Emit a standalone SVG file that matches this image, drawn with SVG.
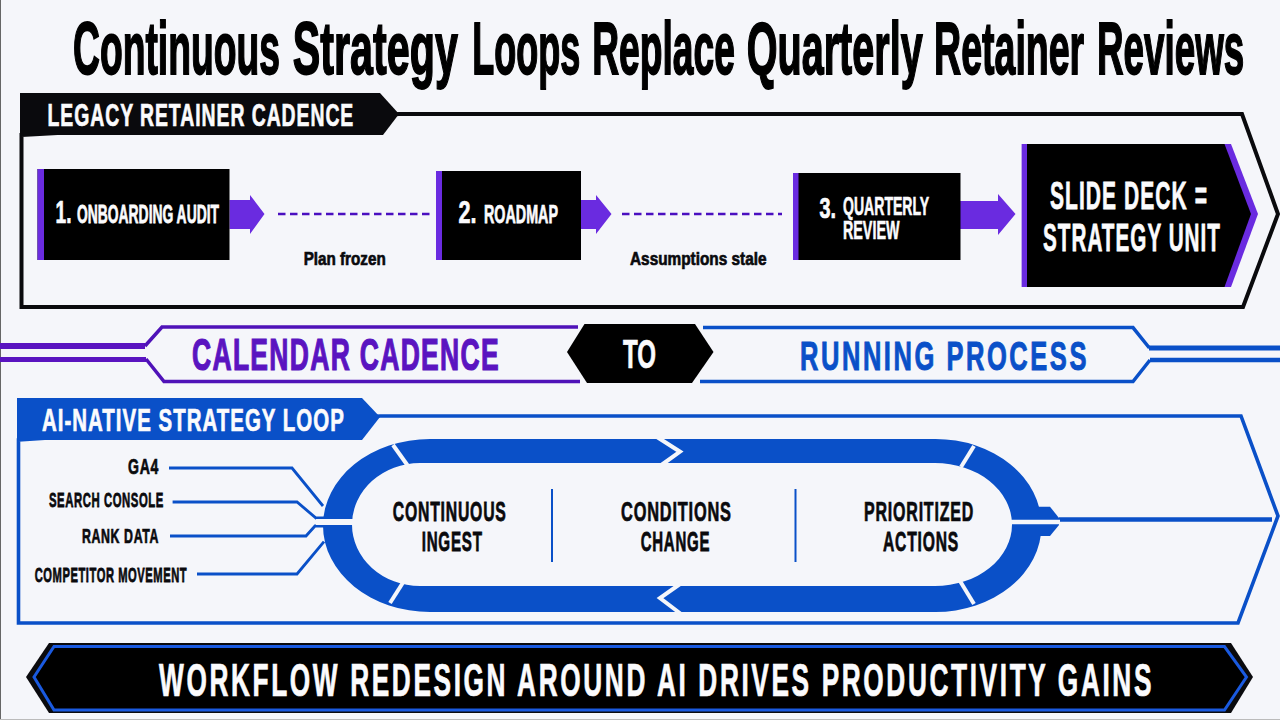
<svg xmlns="http://www.w3.org/2000/svg" width="1280" height="720" viewBox="0 0 1280 720">
<style>
text{font-family:"Liberation Sans",Arial,sans-serif;font-weight:700;vector-effect:non-scaling-stroke}
.w{fill:#fbfbfd;stroke:#fbfbfd;stroke-width:.6}.k{fill:#0a0a0d;stroke:#0a0a0d;stroke-width:.6}
.sp{letter-spacing:.05em}.sp2{letter-spacing:.1em}
.strip{fill:#6a2be0}.box{fill:#000}
.arrow{fill:#6a2be0}
.dash{fill:none;stroke:#4a0fc0;stroke-width:2.3;stroke-dasharray:7.5 4.5}
.pl{fill:none;stroke:#4f12b8;stroke-width:3.5}
.bl{fill:none;stroke:#0a50c8;stroke-width:3.5}
.feed{fill:none;stroke:#0a50c8;stroke-width:2.8}
.cut{fill:none;stroke:#f5f6fa;stroke-width:4}
</style>
<rect width="1280" height="720" fill="#f5f6fa"/>
<line x1="0.5" y1="0" x2="0.5" y2="720" stroke="#666" stroke-width="1"/>
<line x1="0" y1="719.5" x2="1280" y2="719.5" stroke="#bbb" stroke-width="1"/>
<text id="title" transform="translate(73 74) scale(.494 1)" font-size="75" fill="#000" stroke="#000" stroke-width="1.8"><tspan x="0" textLength="419" lengthAdjust="spacingAndGlyphs">Continuous</tspan> <tspan x="445" textLength="334" lengthAdjust="spacingAndGlyphs">Strategy</tspan> <tspan x="808" textLength="219" lengthAdjust="spacingAndGlyphs">Loops</tspan> <tspan x="1051" textLength="289" lengthAdjust="spacingAndGlyphs">Replace</tspan> <tspan x="1364" textLength="356" lengthAdjust="spacingAndGlyphs">Quarterly</tspan> <tspan x="1743" textLength="304" lengthAdjust="spacingAndGlyphs">Retainer</tspan> <tspan x="2073" textLength="298" lengthAdjust="spacingAndGlyphs">Reviews</tspan></text>

<g id="legacy-panel">
<polygon points="21.5,135 21.5,307 1243,307 1278,214 1242,114 399,114" fill="none" stroke="#0a0a0d" stroke-width="4"/>
<polygon points="20,93 380,93 399,114 383,135 20,135" fill="#0a0a0d"/>
<text class="w sp" transform="translate(47.5 126) scale(.567 1)" font-size="32" textLength="541" lengthAdjust="spacingAndGlyphs">LEGACY RETAINER CADENCE</text>
</g>
<g id="connectors">
<polygon class="arrow" points="229.5,200 250,200 250,195 264.5,214 250,234 250,229 229.5,229"/>
<polygon class="arrow" points="581,200 596,200 596,195 611.5,214 596,234 596,229 581,229"/>
<polygon class="arrow" points="960,201 998,201 998,194 1015.5,214 998,235 998,229 960,229"/>
<line class="dash" x1="278" y1="214" x2="431" y2="214"/>
<line class="dash" x1="622" y1="214" x2="782" y2="214"/>
<text class="k" transform="translate(303.7 265) scale(.8 1)" font-size="18" textLength="102.5" lengthAdjust="spacingAndGlyphs">Plan frozen</text>
<text class="k" transform="translate(630 265) scale(.808 1)" font-size="18" textLength="169" lengthAdjust="spacingAndGlyphs">Assumptions stale</text>
<g class="feed">
<polyline points="169,468 292,468 323,506"/>
<polyline points="172.6,502 297,502 316,518 325,518"/>
<polyline points="170,536 306,536 315,526 325,526"/>
<polyline points="197,574 297,574 324,541.7"/>
</g>
<line x1="1059" y1="519.5" x2="1272" y2="519.5" stroke="#0a50c8" stroke-width="4.5"/>
</g>
<g id="node-onboarding">
<rect class="box" x="37.5" y="169" width="192" height="91"/><rect class="strip" x="37.5" y="169" width="6.5" height="91"/>
<text class="w" transform="translate(55.5 223) scale(.564 1)" font-size="32" textLength="28.4" lengthAdjust="spacingAndGlyphs">1.</text>
<text class="w" transform="translate(77 223) scale(.522 1)" font-size="25" textLength="272" lengthAdjust="spacingAndGlyphs">ONBOARDING AUDIT</text>
</g>
<g id="node-roadmap">
<rect class="box" x="436" y="171" width="145" height="89"/><rect class="strip" x="436" y="171" width="6" height="89"/>
<text class="w" transform="translate(458.5 223) scale(.635 1)" font-size="32" textLength="28.4" lengthAdjust="spacingAndGlyphs">2.</text>
<text class="w" transform="translate(484 223) scale(.53 1)" font-size="25" textLength="139.5" lengthAdjust="spacingAndGlyphs">ROADMAP</text>
</g>
<g id="node-review">
<rect class="box" x="793" y="173" width="167.5" height="87"/><rect class="strip" x="793" y="173" width="5.5" height="87"/>
<text class="w" transform="translate(819.6 218) scale(.638 1)" font-size="29" textLength="25.9" lengthAdjust="spacingAndGlyphs">3.</text>
<text class="w" transform="translate(843 215) scale(.53 1)" font-size="25"><tspan x="0" y="0" textLength="162.6" lengthAdjust="spacingAndGlyphs">QUARTERLY</tspan> <tspan x="0" y="24" textLength="106.5" lengthAdjust="spacingAndGlyphs">REVIEW</tspan></text>
</g>
<g id="node-slide-deck">
<polygon class="strip" points="1021.6,144 1231,144 1258,214 1231,287 1021.6,287"/>
<polygon class="box" points="1027,144 1224.5,144 1251,214 1224.5,287 1027,287"/>
<text class="w sp" transform="translate(1050 209) scale(.5 1)" font-size="39" textLength="316" lengthAdjust="spacingAndGlyphs">SLIDE DECK =</text>
<text class="w sp" transform="translate(1043 251) scale(.487 1)" font-size="39" textLength="365.5" lengthAdjust="spacingAndGlyphs">STRATEGY UNIT</text>
</g>

<g id="band-left">
<line x1="0" y1="346" x2="145" y2="346" stroke="#5a14c0" stroke-width="6"/>
<line x1="0" y1="359.5" x2="146" y2="359.5" stroke="#5a14c0" stroke-width="5"/>
<polyline class="pl" points="578,327 162,327 145,346"/>
<polyline class="pl" points="580,381.6 164,381.6 146,359"/>
<text class="sp" transform="translate(192 370) scale(.563 1)" font-size="44" textLength="547" lengthAdjust="spacingAndGlyphs" fill="#5a14c0" stroke="#5a14c0" stroke-width="1">CALENDAR CADENCE</text>
</g>
<g id="band-to">
<polygon class="box" points="567,352 584.5,324 695,324 713.5,352 692,383 587,383"/>
<text class="w" transform="translate(623 368) scale(.553 1)" font-size="41" textLength="59.7" lengthAdjust="spacingAndGlyphs">TO</text>
</g>
<g id="band-right">
<line x1="1149" y1="348" x2="1280" y2="348" stroke="#0a50c8" stroke-width="5"/>
<line x1="1150" y1="360" x2="1280" y2="360" stroke="#0a50c8" stroke-width="4.5"/>
<polyline class="bl" points="703,327.6 1133,327.6 1149.4,348"/>
<polyline class="bl" points="700,381.6 1133,381.6 1150,360"/>
<text class="sp2" transform="translate(800 370) scale(.555 1)" font-size="41.5" textLength="520.7" lengthAdjust="spacingAndGlyphs" fill="#0a50c8" stroke="#0a50c8" stroke-width=".8">RUNNING PROCESS</text>
</g>

<g id="ai-panel">
<polygon points="18.5,440 18.5,623 1238,623 1278,516 1241,416 380,416" fill="none" stroke="#0a50c8" stroke-width="3.6"/>
<polygon points="17,398 362,398 380,417 362,440 17,440" fill="#0a50c8"/>
<text class="w sp" transform="translate(42 431) scale(.595 1)" font-size="32" textLength="509" lengthAdjust="spacingAndGlyphs">AI-NATIVE STRATEGY LOOP</text>
</g>
<g id="loop">
<path fill="#0a50c8" fill-rule="evenodd" d="M430,439H935A106,86.5 0 0 1 1041.5,525.5A106,86.5 0 0 1 935,612H430A107,86.5 0 0 1 323,525.5A107,86.5 0 0 1 430,439ZM420,463A68,61.5 0 0 0 352,524.5A68,61.5 0 0 0 420,586H935A77,61.5 0 0 0 1012,524.5A77,61.5 0 0 0 935,463Z"/>
<polygon fill="#0a50c8" points="1038,506.7 1050,506.7 1059,518 1059,525 1050,536 1038,536"/>
<g class="cut">
<line x1="393" y1="445" x2="408" y2="466"/>
<line x1="404" y1="581" x2="390" y2="603"/>
<line x1="974" y1="446" x2="961" y2="467"/>
<line x1="960" y1="581" x2="974" y2="604"/>
<polyline points="657,437 680,451.7 660,466"/>
<polyline points="680,584 660,598 681,614"/>
</g>
<line x1="316" y1="522" x2="353" y2="522" stroke="#f5f6fa" stroke-width="6"/>
<line x1="1011" y1="522" x2="1060" y2="522" stroke="#f5f6fa" stroke-width="4.5"/>
<line x1="552" y1="489" x2="552" y2="562" stroke="#0a50c8" stroke-width="2"/>
<line x1="795.5" y1="489" x2="795.5" y2="562" stroke="#0a50c8" stroke-width="2"/>
</g>
<g id="node-ingest">
<text class="k sp" transform="translate(392.7 520.7) scale(.526 1)" font-size="28" textLength="216.7" lengthAdjust="spacingAndGlyphs">CONTINUOUS</text>
<text class="k sp" transform="translate(421.7 550.7) scale(.505 1)" font-size="28" textLength="120.7" lengthAdjust="spacingAndGlyphs">INGEST</text>
</g>
<g id="node-conditions">
<text class="k sp" transform="translate(621 520.7) scale(.546 1)" font-size="28" textLength="203" lengthAdjust="spacingAndGlyphs">CONDITIONS</text>
<text class="k sp" transform="translate(640.7 550.7) scale(.5 1)" font-size="28" textLength="139" lengthAdjust="spacingAndGlyphs">CHANGE</text>
</g>
<g id="node-actions">
<text class="k sp" transform="translate(864 520.7) scale(.533 1)" font-size="28" textLength="206.5" lengthAdjust="spacingAndGlyphs">PRIORITIZED</text>
<text class="k sp" transform="translate(883 550.7) scale(.522 1)" font-size="28" textLength="145.5" lengthAdjust="spacingAndGlyphs">ACTIONS</text>
</g>
<g id="node-ga4"><text class="k sp" transform="translate(128 474) scale(.586 1)" font-size="22.5" textLength="52.9" lengthAdjust="spacingAndGlyphs">GA4</text></g>
<g id="node-search"><text class="k sp" transform="translate(49 507) scale(.515 1)" font-size="21" textLength="223" lengthAdjust="spacingAndGlyphs">SEARCH CONSOLE</text></g>
<g id="node-rank"><text class="k sp" transform="translate(82 543) scale(.548 1)" font-size="21" textLength="140.5" lengthAdjust="spacingAndGlyphs">RANK DATA</text></g>
<g id="node-competitor"><text class="k sp" transform="translate(34.7 581.7) scale(.507 1)" font-size="21" textLength="300.8" lengthAdjust="spacingAndGlyphs">COMPETITOR MOVEMENT</text></g>

<g id="banner">
<polygon points="26,677 49,643 1231,643 1253,677 1231,713 49,713" fill="#0a0a0d"/>
<polygon points="34,677 54,646.5 1224.5,646.5 1246.5,677 1224.5,710 54,710" fill="#000" stroke="#1a5ae0" stroke-width="3"/>
<text class="w sp2" transform="translate(159 696) scale(.537 1)" font-size="46" textLength="1853" lengthAdjust="spacingAndGlyphs">WORKFLOW REDESIGN AROUND AI DRIVES PRODUCTIVITY GAINS</text>
</g>
</svg>
